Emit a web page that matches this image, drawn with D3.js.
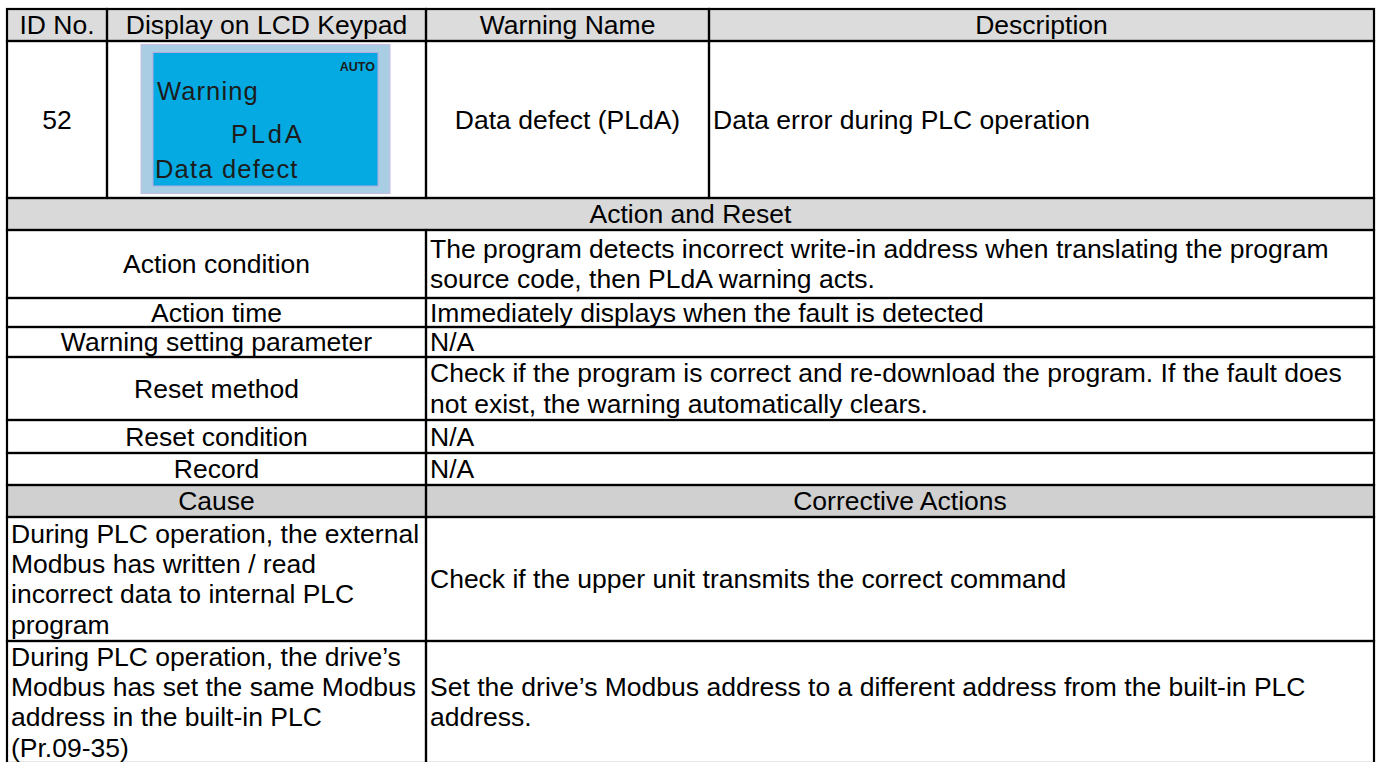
<!DOCTYPE html>
<html>
<head>
<meta charset="utf-8">
<script src="https://cdn.jsdelivr.net/npm/d3@7/dist/d3.min.js"></script>
<style>
  html, body { margin: 0; padding: 0; background: #ffffff; }
  svg { display: block; }
  text { font-family: "Liberation Sans", Arial, Helvetica, sans-serif; fill: #000; }
</style>
</head>
<body>
<svg id="chart" width="1378" height="762"></svg>
<script>
// ---------- data ----------
const headers = ["ID No.", "Display on LCD Keypad", "Warning Name", "Description"];
const warningId = "52";
const warningName = "Data defect (PLdA)";
const description = ["Data error during PLC operation"];
const lcdMode = "AUTO";
const lcdLines = ["Warning", "PLdA", "Data defect"];
const sectionAction = "Action and Reset";
const actionLabels = ["Action condition", "Action time", "Warning setting parameter", "Reset method", "Reset condition", "Record"];
const actionValues = [
  ["The program detects incorrect write-in address when translating the program", "source code, then PLdA warning acts."],
  ["Immediately displays when the fault is detected"],
  ["N/A"],
  ["Check if the program is correct and re-download the program. If the fault does", "not exist, the warning automatically clears."],
  ["N/A"],
  ["N/A"]
];
const sectionCause = ["Cause", "Corrective Actions"];
const causes = [
  ["During PLC operation, the external", "Modbus has written / read", "incorrect data to internal PLC", "program"],
  ["During PLC operation, the drive\u2019s", "Modbus has set the same Modbus", "address in the built-in PLC", "(Pr.09-35)"]
];
const corrective = [
  ["Check if the upper unit transmits the correct command"],
  ["Set the drive\u2019s Modbus address to a different address from the built-in PLC", "address."]
];

// ---------- layout ----------
const FS = 26.5, LH = 30.4, PAD = 4;
const colX = [7, 107, 426, 709, 1374];
const splitX = 426;
const rowY = [9, 41, 198, 230, 298, 327, 357, 420, 453, 485, 517, 641, 763];
const C_HEAD = "#dcdcdc", C_SEC = "#d9d9d9", C_CAUSE = "#d0d0d0";

const svg = d3.select("#chart");
const yRow = d3.scaleOrdinal().domain(d3.range(rowY.length)).range(rowY);

const cells = [];
headers.forEach((h, i) => cells.push({x0: colX[i], x1: colX[i+1], r: 0, fill: C_HEAD, lines: [h], align: "middle"}));
cells.push({x0: colX[0], x1: colX[1], r: 1, lines: [warningId], align: "middle"});
cells.push({x0: colX[1], x1: colX[2], r: 1, lines: [], lcd: true});
cells.push({x0: colX[2], x1: colX[3], r: 1, lines: [warningName], align: "middle"});
cells.push({x0: colX[3], x1: colX[4], r: 1, lines: description, align: "start"});
cells.push({x0: colX[0], x1: colX[4], r: 2, fill: C_SEC, lines: [sectionAction], align: "middle"});
actionLabels.forEach((lab, i) => {
  cells.push({x0: colX[0], x1: splitX, r: 3 + i, lines: [lab], align: "middle"});
  cells.push({x0: splitX, x1: colX[4], r: 3 + i, lines: actionValues[i], align: "start"});
});
cells.push({x0: colX[0], x1: splitX, r: 9, fill: C_CAUSE, lines: [sectionCause[0]], align: "middle"});
cells.push({x0: splitX, x1: colX[4], r: 9, fill: C_CAUSE, lines: [sectionCause[1]], align: "middle"});
causes.forEach((c, i) => {
  cells.push({x0: colX[0], x1: splitX, r: 10 + i, lines: c, align: "start"});
  cells.push({x0: splitX, x1: colX[4], r: 10 + i, lines: corrective[i], align: "start"});
});

cells.forEach(c => { c.y0 = yRow(c.r); c.y1 = yRow(c.r + 1); });

// fills
svg.append("g").selectAll("rect").data(cells).join("rect")
  .attr("x", d => d.x0).attr("y", d => d.y0)
  .attr("width", d => d.x1 - d.x0).attr("height", d => d.y1 - d.y0)
  .attr("fill", d => d.fill || "#ffffff");

// text
const tg = svg.append("g");
cells.forEach(c => {
  const n = c.lines.length;
  if (!n) return;
  const top = (c.y0 + c.y1) / 2 - n * LH / 2;
  c.lines.forEach((ln, j) => {
    const cy = top + LH * (j + 0.5);
    tg.append("text")
      .attr("x", c.align === "middle" ? (c.x0 + c.x1) / 2 : c.x0 + PAD)
      .attr("y", cy + 0.3465 * FS)
      .attr("text-anchor", c.align)
      .attr("font-size", FS)
      .text(ln);
  });
});

// LCD keypad picture
const lg = svg.append("g");
const outer = {x: 141, y: 44.5, w: 249, h: 149};
const inner = {x: 153, y: 52.5, w: 225, h: 133.5};
lg.append("rect").attr("x", outer.x).attr("y", outer.y).attr("width", outer.w).attr("height", outer.h)
  .attr("fill", "#a9cde2").attr("stroke", "#c9bde3").attr("stroke-width", 1);
lg.append("rect").attr("x", inner.x).attr("y", inner.y).attr("width", inner.w).attr("height", inner.h)
  .attr("fill", "#05aae2").attr("stroke", "#b9a9e0").attr("stroke-width", 1);
lg.append("text").attr("x", 375).attr("y", 71).attr("text-anchor", "end")
  .attr("font-size", 12.5).attr("font-weight", "bold").style("fill", "#1a1a1a").text(lcdMode);
const lcdPos = [{x: 157, y: 100, ls: 1.1}, {x: 231, y: 143.3, ls: 2.8}, {x: 155, y: 178.3, ls: 1.2}];
lcdLines.forEach((t, i) => {
  lg.append("text").attr("x", lcdPos[i].x).attr("y", lcdPos[i].y)
    .attr("font-size", 25.5).attr("letter-spacing", lcdPos[i].ls)
    .style("fill", "#1c1c1c").text(t);
});

// borders
svg.append("g").selectAll("rect").data(cells).join("rect")
  .attr("x", d => d.x0).attr("y", d => d.y0)
  .attr("width", d => d.x1 - d.x0).attr("height", d => d.y1 - d.y0)
  .attr("fill", "none").attr("stroke", "#000").attr("stroke-width", 2.2);
</script>
</body>
</html>
